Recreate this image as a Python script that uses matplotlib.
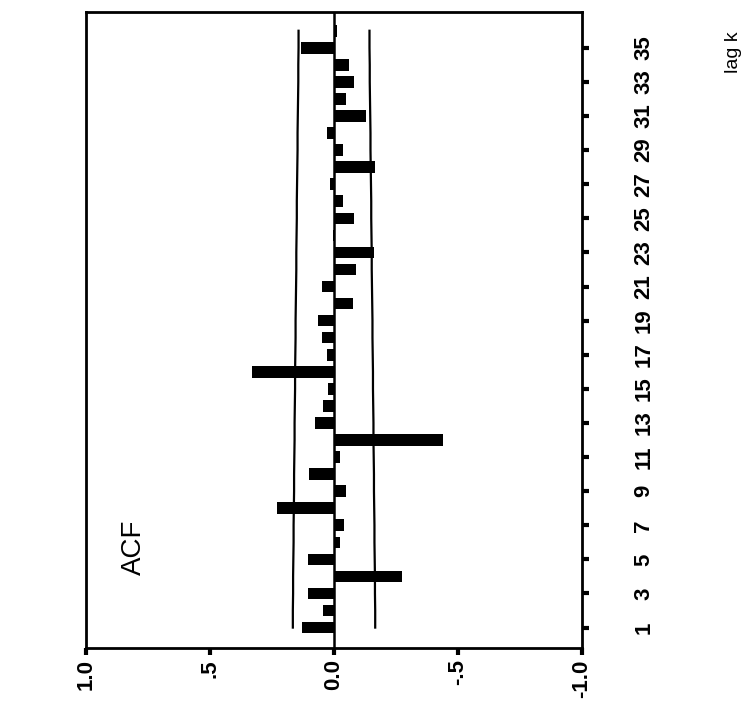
import numpy as np
import matplotlib
matplotlib.use("Agg")
import matplotlib.pyplot as plt

plt.rcParams['font.family'] = ['Liberation Sans', 'DejaVu Sans']

# autocorrelations read from the (rotated) scanned chart
lags = list(range(1, 37))
acf = [0.13, 0.045, 0.105, -0.275, 0.105, -0.025, -0.04, 0.23, -0.05, 0.10,
       -0.025, -0.44, 0.075, 0.045, 0.025, 0.33, 0.03, 0.05, 0.065, -0.075,
       0.05, -0.09, -0.16, 0.005, -0.08, -0.035, 0.015, -0.165, -0.035, 0.03,
       -0.13, -0.05, -0.08, -0.06, 0.135, -0.01]
# confidence limits (upper; lower is the mirror image)
conf = [0.166, 0.166, 0.165, 0.165, 0.164, 0.163, 0.163, 0.162, 0.161, 0.161,
        0.160, 0.159, 0.159, 0.158, 0.157, 0.157, 0.156, 0.155, 0.155, 0.154,
        0.153, 0.152, 0.152, 0.151, 0.150, 0.150, 0.149, 0.148, 0.147, 0.147,
        0.146, 0.145, 0.144, 0.144, 0.143, 0.143]
lag_ticks = list(range(1, 36, 2))
val_ticks = [1.0, 0.5, 0.0, -0.5, -1.0]
val_labels = ['1.0', '.5', '0.0', '-.5', '-1.0']

fig = plt.figure(figsize=(7.54, 7.14), dpi=100)
ax = fig.add_axes([0.114, 0.0924, 0.658, 0.8908])

ax.barh(lags, acf, height=0.68, color='black')
ax.plot(conf, lags, color='black', lw=1.6)
ax.plot([-c for c in conf], lags, color='black', lw=1.6)
ax.axvline(0, color='black', lw=1.8)

ax.set_xlim(1.0, -1.0)
ax.set_ylim(-0.2, 37.1)

ax.set_xticks(val_ticks)
ax.set_xticklabels(val_labels, rotation=90, fontsize=16, fontweight='bold')
ax.yaxis.tick_right()
ax.set_yticks(lag_ticks)
ax.set_yticklabels([str(k) for k in lag_ticks], rotation=90, fontsize=16,
                   fontweight='bold', va='center')
ax.tick_params(axis='x', direction='out', length=5, width=3, pad=3)
ax.tick_params(axis='y', direction='out', length=5, width=3, pad=32)
for s in ax.spines.values():
    s.set_linewidth(2)

fig.text(134 / 754, 1 - 547 / 714, 'ACF', rotation=90, fontsize=20,
         ha='center', va='center')
fig.text(733 / 754, 1 - 52 / 714, 'lag k', rotation=90, fontsize=14,
         ha='center', va='center')

fig.savefig('out.png', dpi=100)
